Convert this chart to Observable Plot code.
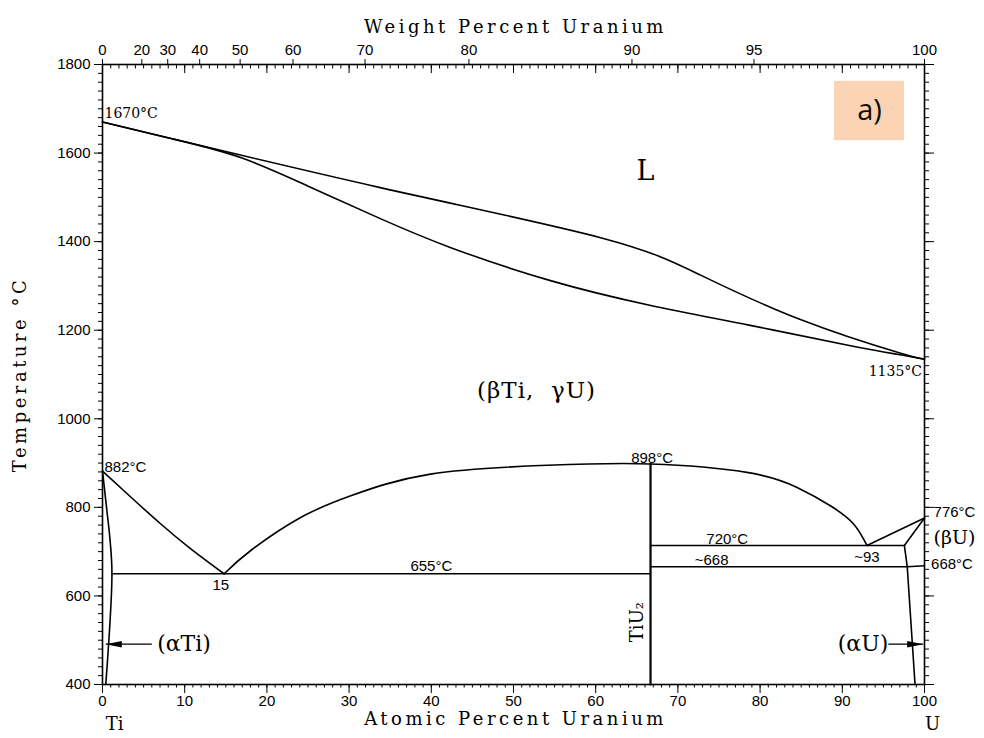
<!DOCTYPE html>
<html><head><meta charset="utf-8">
<script src="https://cdn.jsdelivr.net/npm/d3@7"></script>
<script src="https://cdn.jsdelivr.net/npm/@observablehq/plot@0.6"></script>
<style>
body{margin:0;background:#fff}
</style></head><body><div id="chart"></div>
<script>
// ---- phase boundary data (atomic % U, temperature °C) ----
const liquidusX = [0, 33.8, 60.6, 72.7, 84.9, 97.1, 100];
const liquidusT = [1670, 1522, 1409, 1325, 1224, 1148, 1135];
const solidusX = [0, 8.3, 16.8, 25.3, 33.8, 42.3, 54.5, 66.7, 78.8, 91.0, 100];
const solidusT = [1670, 1633, 1590, 1523, 1452, 1387, 1312, 1256, 1211, 1165, 1135];
const transusLeftX = [0, 3.4, 7.06, 10.7, 14.8];
const transusLeftT = [882, 824, 763, 707, 650];
const transusRightX = [14.8, 18.0, 24.1, 30.2, 39.9, 54.1, 66.67, 78.4, 84.5, 88.6, 91.4, 93.0];
const transusRightT = [650, 702, 777, 826, 875, 895, 898, 879, 845, 803, 762, 714];
const alphaTiX = [0, 0.55, 0.9, 1.15, 0.4];
const alphaTiT = [882, 790, 730, 650, 400];
const eutectoidX = [1.15, 66.67];
const eutectoidT = [650, 650];
const tiu2X = [66.67, 66.67];
const tiu2T = [400, 898];
const peritectoidX = [66.67, 97.55];
const peritectoidT = [714, 714];
const monotectoidX = [66.67, 97.9, 100];
const monotectoidT = [666, 666, 668];
const alphaUX = [97.55, 97.9, 98.85];
const alphaUT = [714, 666, 400];
const betaULeftX = [93.0, 100];
const betaULeftT = [714, 776];
const betaURightX = [97.55, 100];
const betaURightT = [714, 776];

// ---- ticks ----
const yMajor = [400, 600, 800, 1000, 1200, 1400, 1600, 1800];
const yMinor = d3.range(400, 1801, 20);
const xMajor = [0, 10, 20, 30, 40, 50, 60, 70, 80, 90, 100];
const xMinor = d3.range(0, 101, 1);
const wtTicks = [0, 20, 30, 40, 50, 60, 70, 80, 90, 95, 100];
const massTi = 47.867, massU = 238.029;
const wtToAt = w => w === 100 ? 100 : (w / massU) / ((w / massU) + ((100 - w) / massTi)) * 100;
const wtPos = wtTicks.map(wtToAt);
const wtLabel = new Map(wtPos.map((p, i) => [p, String(wtTicks[i])]));

// ---- labels ----
const axisTitles = ["Weight Percent Uranium", "Atomic Percent Uranium", "Temperature °C", "Ti", "U"];
const serifText = ["1670°C", "1135°C"];
const serifX = [0.24, 99.7];
const serifT = [1689, 1106];
const serifAnchor = ["start", "end"];
const sansText = ["882°C", "15", "655°C", "898°C", "720°C", "~668", "~93", "776°C", "668°C"];
const sansX = [0.24, 14.4, 40.0, 66.86, 76.0, 74.1, 93.0, 101.1, 100.8];
const sansT = [891, 625, 667, 912, 729, 681, 688, 789, 672];
const sansAnchor = ["start", "middle", "middle", "middle", "middle", "middle", "middle", "start", "start"];
const phaseText = ["(βTi,  γU)", "(αTi)", "(αU)", "(βU)"];
const phaseX = [52.8, 6.65, 95.6, 103.65];
const phaseT = [1064, 491, 491, 731];
const phaseAnchor = ["middle", "start", "end", "middle"];
const phaseSize = [23, 22, 22, 19];
const arrowFrom = [6.0, 95.6];
const arrowTip = [0.4, 99.84];
const arrowT = [491, 491];
const panelBox = [89.05, 97.56, 1628, 1762];

const seg = (id, xs, ts) => xs.map((x, i) => ({id, x, T: ts[i]}));
const smooth = [
  ...seg("liquidus", liquidusX, liquidusT),
  ...seg("solidus", solidusX, solidusT),
  ...seg("transusL", transusLeftX, transusLeftT),
  ...seg("transusR", transusRightX, transusRightT)
];
const curvedVertical = seg("alphaTi", alphaTiX, alphaTiT);
const straight = [
  ...seg("eut", eutectoidX, eutectoidT),
  ...seg("per", peritectoidX, peritectoidT),
  ...seg("mono", monotectoidX, monotectoidT),
  ...seg("alphaU", alphaUX, alphaUT),
  ...seg("bUL", betaULeftX, betaULeftT),
  ...seg("bUR", betaURightX, betaURightT)
];
const tiu2 = seg("tiu2", tiu2X, tiu2T);
const mk = (t, x, y, a) => t.map((s, i) => ({s, x: x[i], T: y[i], a: a[i]}));
const serifData = mk(serifText, serifX, serifT, serifAnchor);
const sansData = mk(sansText, sansX, sansT, sansAnchor);
const phaseData = phaseText.map((s, i) => ({s, x: phaseX[i], T: phaseT[i], a: phaseAnchor[i], size: phaseSize[i]}));
const arrows = arrowFrom.map((f, i) => ({x1: f, x2: arrowTip[i], T: arrowT[i], dir: arrowTip[i] < f ? -90 : 90}));

const serif = "'DejaVu Serif', serif";
const sans = "'Liberation Sans', Arial, sans-serif";

const chart = Plot.plot({
  width: 984, height: 738,
  marginLeft: 102, marginRight: 60, marginTop: 64, marginBottom: 54,
  x: {domain: [0, 100], axis: null},
  y: {domain: [400, 1800], axis: null},
  style: {fontFamily: sans, fontSize: "15px", background: "#fff", color: "#000", overflow: "visible"},
  marks: [
    Plot.rect([panelBox], {x1: d => d[0], x2: d => d[1], y1: d => d[2], y2: d => d[3], fill: "#FAD4B5"}),
    Plot.text(["a)"], {x: (panelBox[0] + panelBox[1]) / 2, y: (panelBox[2] + panelBox[3]) / 2, text: d => d, fontFamily: "'Open Sans', sans-serif", fontSize: 29, fill: "#111"}),
    Plot.line(smooth, {x: "x", y: "T", z: "id", curve: "natural", stroke: "#000", strokeWidth: 1.6}),
    Plot.line(curvedVertical, {x: "x", y: "T", curve: "catmull-rom", stroke: "#000", strokeWidth: 1.6}),
    Plot.line(straight, {x: "x", y: "T", z: "id", stroke: "#000", strokeWidth: 1.6}),
    Plot.line(tiu2, {x: "x", y: "T", stroke: "#000", strokeWidth: 2.2}),
    Plot.link(arrows, {x1: "x1", x2: "x2", y1: "T", y2: "T", stroke: "#000", strokeWidth: 1.3}),
    Plot.vector(arrows, {x: "x2", y: "T", rotate: "dir", length: 16, r: 3.2, anchor: "end", shape: "spike", fill: "#000", stroke: "none"}),
    Plot.frame({stroke: "#000", strokeWidth: 1.6}),
    // axes
    Plot.axisY({anchor: "left", ticks: yMajor, tickSize: 8, tickPadding: 4, tickFormat: d => String(d), label: null, fontSize: 15}),
    Plot.axisY({anchor: "left", ticks: yMinor, tickSize: 4, tickFormat: () => "", label: null}),
    Plot.axisY({anchor: "right", ticks: yMajor, tickSize: 9, tickFormat: () => "", label: null}),
    Plot.axisY({anchor: "right", ticks: yMinor, tickSize: 4, tickFormat: () => "", label: null}),
    Plot.axisX({anchor: "bottom", ticks: xMajor, tickSize: 9, tickPadding: 2, tickFormat: d => String(d), label: null, fontSize: 15}),
    Plot.axisX({anchor: "bottom", ticks: xMinor, tickSize: 3.5, tickFormat: () => "", label: null}),
    Plot.axisX({anchor: "top", ticks: xMajor, tickSize: 8, dy: 8, tickFormat: () => "", label: null}),
    Plot.axisX({anchor: "top", ticks: xMinor, tickSize: 3.5, dy: 3.5, tickFormat: () => "", label: null}),
    Plot.axisX({anchor: "top", ticks: wtPos, tickSize: 6, tickPadding: 4, tickFormat: d => wtLabel.get(d), label: null, fontSize: 15}),
    // axis titles
    Plot.text([axisTitles[0]], {frameAnchor: "top", dy: -44, dx: 2, text: d => d, fontFamily: serif, fontSize: 18}),
    Plot.text([axisTitles[1]], {frameAnchor: "bottom", dy: 40, dx: 2, text: d => d, fontFamily: serif, fontSize: 18}),
    Plot.text([axisTitles[2]], {frameAnchor: "left", textAnchor: "middle", dx: -82, dy: 0, rotate: -90, text: d => d, fontFamily: serif, fontSize: 18}),
    Plot.text([axisTitles[3]], {frameAnchor: "bottom-left", textAnchor: "middle", dx: 12, dy: 45, text: d => d, fontFamily: serif, fontSize: 18}),
    Plot.text([axisTitles[4]], {frameAnchor: "bottom-right", textAnchor: "middle", dx: 8, dy: 45, text: d => d, fontFamily: serif, fontSize: 18}),
    // annotations
    Plot.text(serifData, {x: "x", y: "T", text: "s", textAnchor: "start", filter: d => d.a === "start", fontFamily: serif, fontSize: 14}),
    Plot.text(serifData, {x: "x", y: "T", text: "s", textAnchor: "end", filter: d => d.a === "end", fontFamily: serif, fontSize: 14}),
    Plot.text(sansData, {x: "x", y: "T", text: "s", textAnchor: "start", filter: d => d.a === "start", fontFamily: sans, fontSize: 15}),
    Plot.text(sansData, {x: "x", y: "T", text: "s", textAnchor: "middle", filter: d => d.a === "middle", fontFamily: sans, fontSize: 15}),
    Plot.text(phaseData, {x: "x", y: "T", text: "s", textAnchor: "start", filter: d => d.a === "start", fontFamily: serif, fontSize: 22}),
    Plot.text(phaseData, {x: "x", y: "T", text: "s", textAnchor: "end", filter: d => d.a === "end", fontFamily: serif, fontSize: 22}),
    Plot.text(phaseData, {x: "x", y: "T", text: "s", textAnchor: "middle", filter: d => d.a === "middle" && d.size > 20, fontFamily: serif, fontSize: 23}),
    Plot.text(phaseData, {x: "x", y: "T", text: "s", textAnchor: "middle", filter: d => d.a === "middle" && d.size <= 20, fontFamily: serif, fontSize: 19}),
    Plot.text(["L"], {x: 66.06, y: 1558, text: d => d, fontFamily: serif, fontSize: 27}),
    Plot.text(["TiU₂"], {x: 65.1, y: 541, text: d => d, rotate: -90, fontFamily: serif, fontSize: 18})
  ]
});
// letter spacing for the wide, typewriter-like axis titles
const spaced = new Set(axisTitles.slice(0, 3));
d3.select(chart).selectAll("text")
  .filter(function () { return spaced.has(this.textContent); })
  .style("letter-spacing", "3.5px");
d3.select(chart).selectAll("text")
  .filter(function () { return this.textContent === phaseText[0]; })
  .style("letter-spacing", "1px");
document.getElementById("chart").appendChild(chart);
</script></body></html>
